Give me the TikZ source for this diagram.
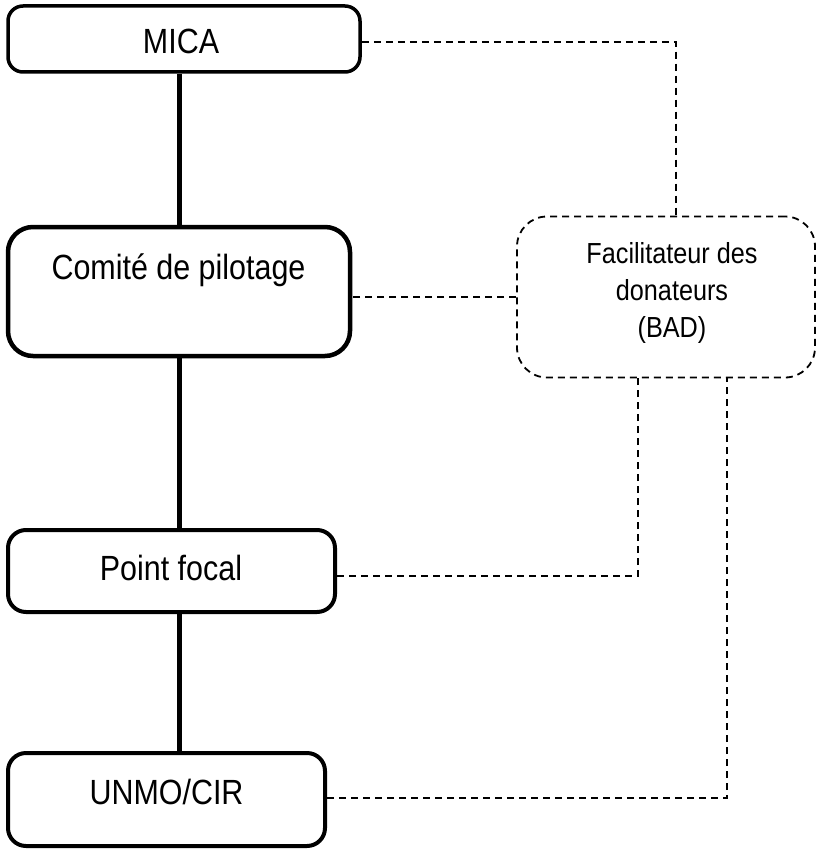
\documentclass[tikz,border=0pt]{standalone}
\usepackage{fontspec}
\setmainfont{Liberation Sans}
\newfontfamily\narrowsans[FakeStretch=0.87]{Liberation Sans}
\begin{document}
\begin{tikzpicture}[x=1pt,y=-1pt,
  box/.style={draw=black, fill=white, rounded corners=#1, inner sep=0pt},
  box/.default=16pt,
  dbox/.style={draw=black, line width=1.8pt, dash pattern=on 7pt off 5pt, rounded corners=30pt, inner sep=0pt},
  lbl/.style={font=\narrowsans\fontsize{35}{40}\selectfont, anchor=base, inner sep=0pt},
  conn/.style={line width=5pt, draw=black},
  dline/.style={line width=1.8pt, dash pattern=on 7pt off 5pt, draw=black}
]
\useasboundingbox (0,0) rectangle (818,850);
\node[box=15pt, line width=3.5pt, minimum width=352pt, minimum height=66pt] (mica) at (184,39) {};
\node[box=25pt, line width=4.5pt, minimum width=342pt, minimum height=129pt] (comite) at (179,291.5) {};
\node[box=18pt, line width=4pt, minimum width=327pt, minimum height=82pt] (pf) at (171.5,571) {};
\node[box=18pt, line width=4pt, minimum width=317pt, minimum height=93pt] (unmo) at (166.5,799.5) {};
\node[dbox, minimum width=298pt, minimum height=161pt] (fac) at (666,297) {};

\node[lbl] (micat) at (181,54) {MICA};
\node[lbl] (comitet) at (178.5,279) {Comité de pilotage};
\node[lbl] (pft) at (171,580) {Point focal};
\node[lbl] (unmot) at (166.5,804) {UNMO/CIR};
\node[font=\narrowsans\fontsize{29}{37}\selectfont, align=center, inner sep=0pt] (fact) at (672,293) {Facilitateur des\\donateurs\\(BAD)};

\draw[conn] (mica.south -| comite.north) -- (comite.north);
\draw[conn] (comite.south) -- (comite.south |- pf.north);
\draw[conn] (comite.south |- pf.south) -- (comite.south |- unmo.north);

\draw[dline] ([yshift=-3pt]mica.east) -| ([xshift=10pt]fac.north);
\draw[dline] (fac.west) -- (fac.west -| comite.east);
\draw[dline] ([yshift=-5pt]pf.east) -| ([xshift=-28pt]fac.south);
\draw[dline] ([yshift=1.5pt]unmo.east) -| ([xshift=61pt]fac.south);
\end{tikzpicture}
\end{document}
